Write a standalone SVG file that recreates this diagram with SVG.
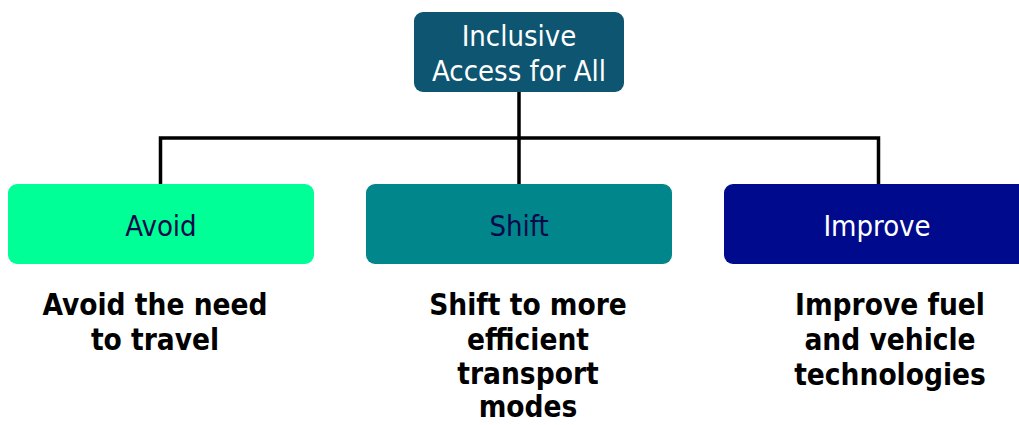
<svg xmlns="http://www.w3.org/2000/svg" width="1019" height="425" viewBox="0 0 1019 425">
<style>
.t{font-family:"DejaVu Sans Condensed","DejaVu Sans",sans-serif;font-size:29px;text-anchor:middle}
.w{fill:#ffffff}
.n{fill:#0a0a4a}
.b{font-family:"DejaVu Sans Condensed","DejaVu Sans",sans-serif;font-size:29.5px;font-weight:bold;text-anchor:middle;fill:#000000}
.c{fill:none;stroke:#000000;stroke-width:3.5}
</style>
<rect width="1019" height="425" fill="#ffffff"/>
<g id="connectors">
<path class="c" d="M519 92 V184"/>
<path class="c" d="M160.5 184 V138 H878.5 V184"/>
</g>
<g id="root">
<rect x="414" y="12" width="210" height="80" rx="9" fill="#0d5570"/>
<text class="t w" x="519" y="46">Inclusive</text>
<text class="t w" x="519" y="81">Access for All</text>
</g>
<g id="avoid">
<rect x="8" y="184" width="306" height="80" rx="9" fill="#00ff96"/>
<text class="t n" x="161" y="236">Avoid</text>
</g>
<g id="shift">
<rect x="366" y="184" width="306" height="80" rx="9" fill="#00868b"/>
<text class="t n" x="519" y="236">Shift</text>
</g>
<g id="improve">
<rect x="724" y="184" width="306" height="80" rx="9" fill="#000a8c"/>
<text class="t w" x="877" y="236">Improve</text>
</g>
<g id="avoid-desc">
<text class="b" x="155" y="315">Avoid the need</text>
<text class="b" x="155" y="350">to travel</text>
</g>
<g id="shift-desc">
<text class="b" x="528" y="315">Shift to more</text>
<text class="b" x="528" y="349.5">efficient</text>
<text class="b" x="528" y="384">transport</text>
<text class="b" x="528" y="417">modes</text>
</g>
<g id="improve-desc">
<text class="b" x="890" y="315">Improve fuel</text>
<text class="b" x="890" y="350">and vehicle</text>
<text class="b" x="890" y="385">technologies</text>
</g>
</svg>
